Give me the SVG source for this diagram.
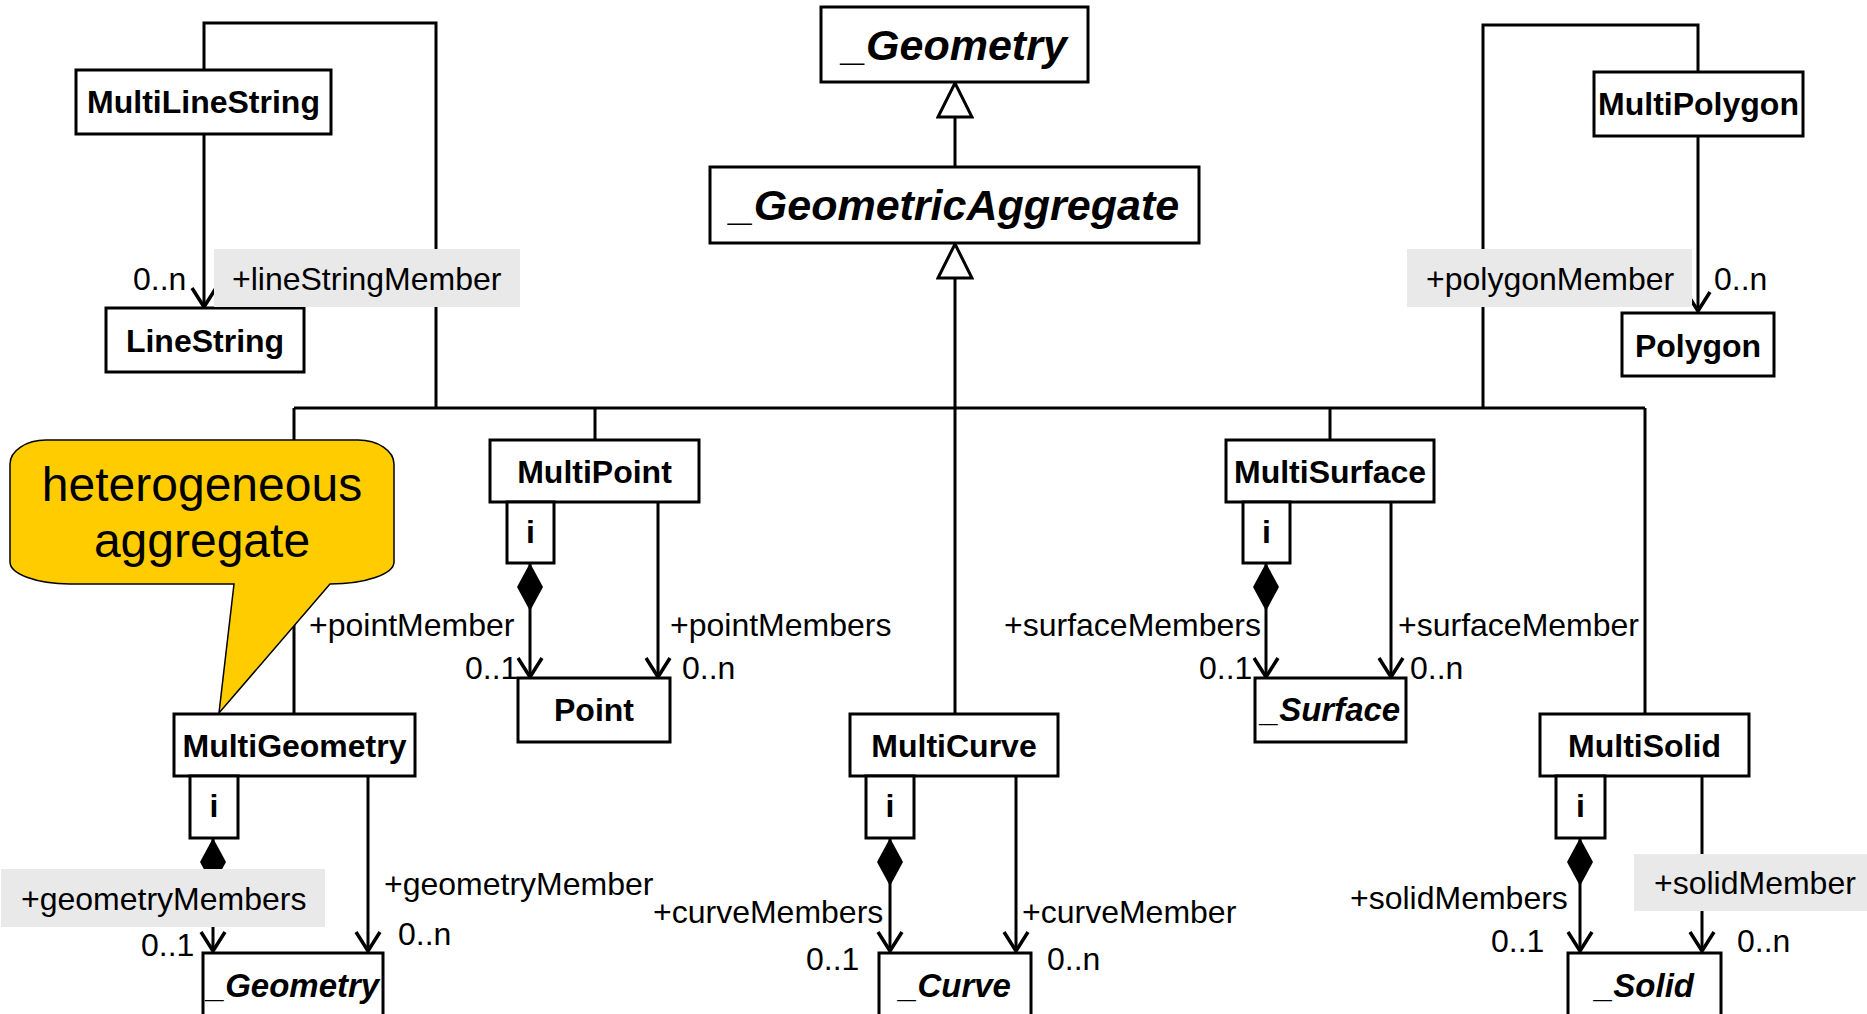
<svg xmlns="http://www.w3.org/2000/svg" width="1867" height="1014" viewBox="0 0 1867 1014">
  <style>
    text { font-family: "Liberation Sans", Arial, sans-serif; fill: #000; }
    .box { fill: #fff; stroke: #000; stroke-width: 3; }
    .title { font-size: 32px; font-weight: bold; text-anchor: middle; }
    .abstract { font-size: 33px; font-weight: bold; font-style: italic; text-anchor: middle; }
    .big { font-size: 43px; font-weight: bold; font-style: italic; text-anchor: middle; }
    .role { font-size: 32px; }
    .tag { fill: #e9e9e9; stroke: none; }
    .line { fill: none; stroke: #000; stroke-width: 3; }
    .assoc { fill: none; stroke: #000; stroke-width: 3; marker-end: url(#open); }
    .comp { fill: none; stroke: #000; stroke-width: 3; marker-start: url(#diamond); marker-end: url(#open); }
    .gen { fill: none; stroke: #000; stroke-width: 3; marker-end: url(#hollow); }
  </style>
  <defs>
    <marker id="open" markerUnits="userSpaceOnUse" viewBox="0 0 24 28" markerWidth="24" markerHeight="28" refX="21" refY="14" orient="auto">
      <path d="M2,2 L21,14 L2,26" fill="none" stroke="#000" stroke-width="3.5"/>
    </marker>
    <marker id="diamond" markerUnits="userSpaceOnUse" viewBox="0 0 48 28" markerWidth="48" markerHeight="28" refX="0" refY="14" orient="auto">
      <path d="M0,14 L24,1 L48,14 L24,27 Z" fill="#000"/>
    </marker>
    <marker id="hollow" markerUnits="userSpaceOnUse" viewBox="-2 -2 38 38" markerWidth="38" markerHeight="38" refX="34" refY="17" orient="auto">
      <path d="M0,0 L34,17 L0,34 Z" fill="#fff" stroke="#000" stroke-width="3"/>
    </marker>
  </defs>

  <!-- connectors -->
  <g id="connectors">
    <!-- generalisation tree -->
    <path class="gen" d="M955,167 V83"/>
    <path class="gen" d="M955,714 V244"/>
    <path class="line" d="M294,408 H1645"/>
    <path class="line" d="M294,714 V408"/>
    <path class="line" d="M595,440 V408"/>
    <path class="line" d="M1330,440 V408"/>
    <path class="line" d="M1645,714 V408"/>
    <path class="line" d="M204,70 V23 H436 V408"/>
    <path class="line" d="M1698,72 V25 H1483 V408"/>
    <!-- member associations -->
    <path class="assoc" d="M204,134 V307"/>
    <path class="assoc" d="M1698,136 V311"/>
    <path class="comp" d="M530,563 V677"/>
    <path class="assoc" d="M658,502 V677"/>
    <path class="comp" d="M1266,563 V677"/>
    <path class="assoc" d="M1391,502 V677"/>
    <path class="comp" d="M213,838 V951"/>
    <path class="assoc" d="M368,776 V951"/>
    <path class="comp" d="M890,838 V951"/>
    <path class="assoc" d="M1016,776 V951"/>
    <path class="comp" d="M1580,838 V951"/>
    <path class="assoc" d="M1702,776 V951"/>
  </g>

  <!-- classes -->
  <g id="Geometry">
    <rect class="box" x="821" y="7" width="267" height="75"/>
    <text class="big" x="954.5" y="60">_Geometry</text>
  </g>
  <g id="GeometricAggregate">
    <rect class="box" x="710" y="167" width="489" height="76"/>
    <text class="big" x="954.5" y="220">_GeometricAggregate</text>
  </g>
  <g id="MultiLineString">
    <rect class="box" x="76" y="70" width="255" height="64"/>
    <text class="title" x="203.5" y="113">MultiLineString</text>
  </g>
  <g id="LineString">
    <rect class="box" x="106" y="308" width="198" height="64"/>
    <text class="title" x="205" y="352">LineString</text>
  </g>
  <g id="MultiPolygon">
    <rect class="box" x="1594" y="72" width="209" height="64"/>
    <text class="title" x="1698.5" y="115">MultiPolygon</text>
  </g>
  <g id="Polygon">
    <rect class="box" x="1622" y="313" width="152" height="63"/>
    <text class="title" x="1698" y="357">Polygon</text>
  </g>
  <g id="MultiPoint">
    <rect class="box" x="490" y="440" width="209" height="62"/>
    <text class="title" x="594.5" y="483">MultiPoint</text>
    <rect class="box" x="507" y="502" width="47" height="61"/>
    <text class="title" x="530.5" y="543">i</text>
  </g>
  <g id="Point">
    <rect class="box" x="518" y="678" width="152" height="64"/>
    <text class="title" x="594" y="721">Point</text>
  </g>
  <g id="MultiSurface">
    <rect class="box" x="1226" y="440" width="208" height="62"/>
    <text class="title" x="1330" y="483">MultiSurface</text>
    <rect class="box" x="1243" y="502" width="47" height="61"/>
    <text class="title" x="1266.5" y="543">i</text>
  </g>
  <g id="Surface">
    <rect class="box" x="1255" y="678" width="151" height="64"/>
    <text class="abstract" x="1330.5" y="721">_Surface</text>
  </g>
  <g id="MultiGeometry">
    <rect class="box" x="174" y="714" width="241" height="62"/>
    <text class="title" x="294.5" y="757">MultiGeometry</text>
    <rect class="box" x="190" y="776" width="48" height="62"/>
    <text class="title" x="214" y="817">i</text>
  </g>
  <g id="GeometryMember">
    <rect class="box" x="203" y="953" width="180" height="70"/>
    <text class="abstract" x="293" y="997">_Geometry</text>
  </g>
  <g id="MultiCurve">
    <rect class="box" x="850" y="714" width="208" height="62"/>
    <text class="title" x="954" y="757">MultiCurve</text>
    <rect class="box" x="866" y="776" width="48" height="62"/>
    <text class="title" x="890" y="817">i</text>
  </g>
  <g id="Curve">
    <rect class="box" x="879" y="953" width="152" height="70"/>
    <text class="abstract" x="955" y="997">_Curve</text>
  </g>
  <g id="MultiSolid">
    <rect class="box" x="1540" y="714" width="209" height="62"/>
    <text class="title" x="1644.5" y="757">MultiSolid</text>
    <rect class="box" x="1556" y="776" width="49" height="62"/>
    <text class="title" x="1580.5" y="817">i</text>
  </g>
  <g id="Solid">
    <rect class="box" x="1568" y="953" width="153" height="70"/>
    <text class="abstract" x="1644.5" y="997">_Solid</text>
  </g>

  <!-- role names and multiplicities -->
  <g id="labels">
    <rect class="tag" x="214" y="249" width="306" height="58"/>
    <text class="role" x="232" y="290">+lineStringMember</text>
    <text class="role" x="133" y="290">0..n</text>

    <rect class="tag" x="1407" y="249" width="285" height="58"/>
    <text class="role" x="1426" y="290">+polygonMember</text>
    <text class="role" x="1714" y="290">0..n</text>

    <text class="role" x="309" y="636">+pointMember</text>
    <text class="role" x="465" y="679">0..1</text>
    <text class="role" x="670" y="636">+pointMembers</text>
    <text class="role" x="682" y="679">0..n</text>

    <text class="role" x="1004" y="636">+surfaceMembers</text>
    <text class="role" x="1199" y="679">0..1</text>
    <text class="role" x="1398" y="636">+surfaceMember</text>
    <text class="role" x="1410" y="679">0..n</text>

    <rect class="tag" x="1" y="869" width="324" height="58"/>
    <text class="role" x="21" y="910">+geometryMembers</text>
    <text class="role" x="141" y="956">0..1</text>
    <text class="role" x="384" y="895">+geometryMember</text>
    <text class="role" x="398" y="945">0..n</text>

    <text class="role" x="653" y="923">+curveMembers</text>
    <text class="role" x="806" y="970">0..1</text>
    <text class="role" x="1022" y="923">+curveMember</text>
    <text class="role" x="1047" y="970">0..n</text>

    <text class="role" x="1350" y="909">+solidMembers</text>
    <text class="role" x="1491" y="952">0..1</text>
    <rect class="tag" x="1634" y="854" width="233" height="57"/>
    <text class="role" x="1654" y="894">+solidMember</text>
    <text class="role" x="1737" y="952">0..n</text>
  </g>

  <!-- note callout -->
  <g id="note">
    <path d="M46,440 H358 A36,24 0 0 1 394,464 V562 A64,22 0 0 1 330,584 L219,713 L234,584 H70 A60,22 0 0 1 10,562 V464 A36,24 0 0 1 46,440 Z" fill="#ffcc00" stroke="#000" stroke-width="1.5"/>
    <text x="202" y="501" font-size="48" text-anchor="middle">heterogeneous</text>
    <text x="202" y="557" font-size="48" text-anchor="middle">aggregate</text>
  </g>
</svg>
